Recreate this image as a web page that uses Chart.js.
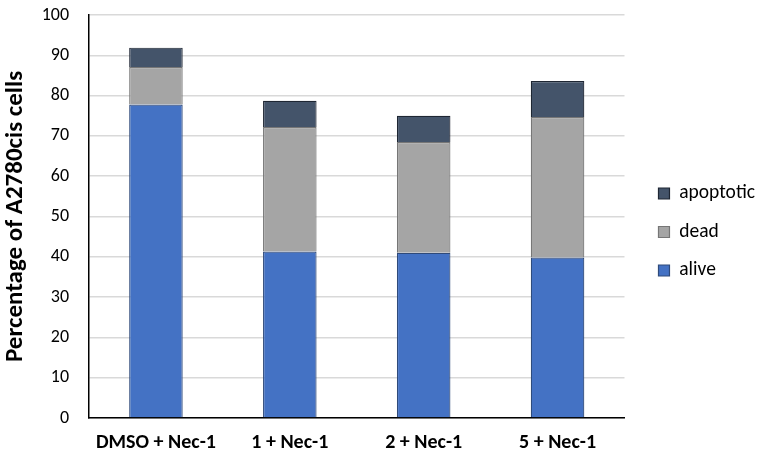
<!DOCTYPE html>
<html>
<head>
<meta charset="utf-8">
<script src="https://cdn.jsdelivr.net/npm/chart.js@4"></script>
<style>
  html, body { margin: 0; padding: 0; background: #fff; }
  #wrap { width: 758px; height: 458px; }
</style>
</head>
<body>
<div id="wrap"><canvas id="chart" width="758" height="458"></canvas></div>
<script>
// categories and stacked series (percent of cells)
const categories = ["DMSO + Nec-1", "1 + Nec-1", "2 + Nec-1", "5 + Nec-1"];
const alive = [77.8, 41.3, 41.0, 39.8];
const dead = [9.3, 30.9, 27.5, 34.9];
const apoptotic = [4.8, 6.5, 6.5, 8.9];

const fontFam = "Carlito, Calibri, 'Liberation Sans', sans-serif";

Chart.defaults.font.family = fontFam;
Chart.defaults.color = "#000";

// nudge the legend so there is a wider gap between plot and legend
const legendShift = {
    id: 'legendShift',
    afterLayout(chart) {
        const lg = chart.legend;
        if (!lg) return;
        lg.left += 15;
        lg.right += 15;
        lg.top += 3;
        lg.bottom += 3;
    }
};

const ctx = document.getElementById('chart').getContext('2d');
new Chart(ctx, {
    type: 'bar',
    data: {
        labels: categories,
        datasets: [
            { label: 'alive', data: alive, backgroundColor: '#4472C4', borderColor: '#2F4A7A', borderWidth: 1.2 },
            { label: 'dead', data: dead, backgroundColor: '#A5A5A5', borderColor: '#767676', borderWidth: 1.2 },
            { label: 'apoptotic', data: apoptotic, backgroundColor: '#44546A', borderColor: '#1E2633', borderWidth: 1.2 }
        ]
    },
    options: {
        responsive: false,
        animation: false,
        layout: { padding: { top: 0, right: 8, bottom: 0, left: 0 } },
        datasets: { bar: { barPercentage: 1, categoryPercentage: 0.4 } },
        scales: {
            x: {
                stacked: true,
                grid: { display: false, drawTicks: false },
                border: { color: '#000', width: 1.5 },
                ticks: { font: { size: 20, weight: 'bold' }, padding: 13, maxRotation: 0 },
                afterFit(s) { s.paddingLeft = 0; s.paddingRight = 0; s.height = 40; }
            },
            y: {
                stacked: true,
                min: 0, max: 100,
                ticks: { stepSize: 10, font: { size: 18 }, padding: 20 },
                grid: { color: '#D9D9D9', lineWidth: 1.5, drawTicks: false },
                border: { color: '#000', width: 1.5 },
                title: { display: true, text: 'Percentage of A2780cis cells', font: { size: 25, weight: 'bold' }, padding: { top: 1, bottom: 11 } },
                afterFit(s) { s.paddingTop = 15; s.paddingBottom = 0; s.width = 89; }
            }
        },
        plugins: {
            legend: {
                position: 'right',
                reverse: true,
                labels: { boxWidth: 11, boxHeight: 11, padding: 19, font: { size: 19.5 } }
            },
            tooltip: { enabled: false }
        }
    },
    plugins: [legendShift]
});
</script>
</body>
</html>
